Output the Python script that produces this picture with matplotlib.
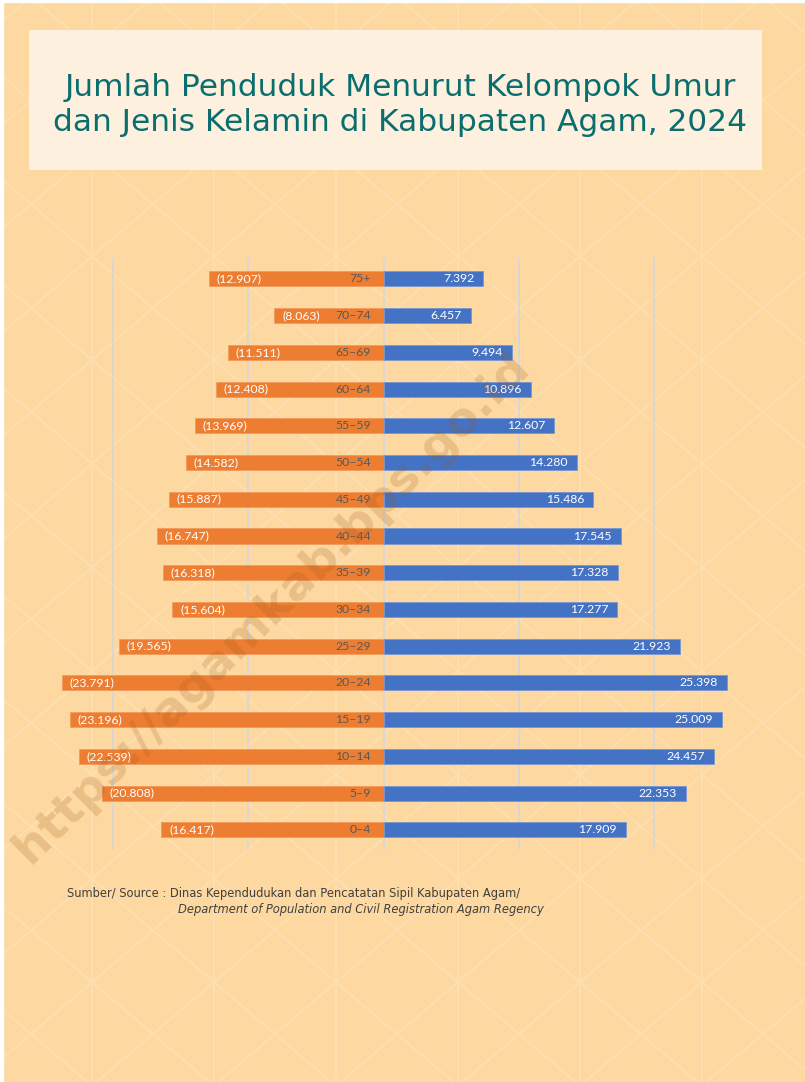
import numpy as np
import matplotlib
matplotlib.use("Agg")
import matplotlib.pyplot as plt
from matplotlib.patches import Rectangle

# ---------------- data ----------------
age_groups = ["0–4", "5–9", "10–14", "15–19", "20–24", "25–29", "30–34", "35–39",
              "40–44", "45–49", "50–54", "55–59", "60–64", "65–69", "70–74", "75+"]
female = [16417, 20808, 22539, 23196, 23791, 19565, 15604, 16318,
          16747, 15887, 14582, 13969, 12408, 11511, 8063, 12907]
male = [17909, 22353, 24457, 25009, 25398, 21923, 17277, 17328,
        17545, 15486, 14280, 12607, 10896, 9494, 6457, 7392]
grid_ticks = [-20000, -10000, 0, 10000, 20000]

title = "Jumlah Penduduk Menurut Kelompok Umur\ndan Jenis Kelamin di Kabupaten Agam, 2024"
source1 = "Sumber/ Source : Dinas Kependudukan dan Pencatatan Sipil Kabupaten Agam/"
source2 = "Department of Population and Civil Registration Agam Regency"
watermark = "https://agamkab.bps.go.id"

def fmt(v):
    return f"{v:,}".replace(",", ".")

# ---------------- figure ----------------
W, H = 805, 1082
BG = "#FDD8A0"
fig = plt.figure(figsize=(W / 100, H / 100), dpi=100, facecolor=BG)

# background pattern axes in pixel coordinates
bg = fig.add_axes([0, 0, 1, 1], zorder=0)
bg.axis("off")
bg.set_facecolor(BG)
pcol = "#FDDFB1"
period = 122
m = 0.85
xs0 = 31
for k in range(-2, 8):
    x = 92 + k * period
    bg.plot([x, x], [0, H], color=pcol, lw=1.3, zorder=0)
for k in range(-20, 30):
    x0 = xs0 + k * period
    yy = np.array([-200, H + 200])
    bg.plot(x0 + (yy - 1034) / m, yy, color=pcol, lw=1.3, zorder=0)
    bg.plot(x0 - (yy - 1034) / m, yy, color=pcol, lw=1.3, zorder=0)
bg.set_xlim(0, W)
bg.set_ylim(H, 0)

# white edges
bg.add_patch(Rectangle((0, 0), 3, H, color="white", zorder=1))
bg.add_patch(Rectangle((0, 0), W, 2, color="white", zorder=1))

# title box
bg.add_patch(Rectangle((29, 30), 733, 140, facecolor="#FEF0DE", edgecolor="none", zorder=2))
bg.text(400, 105, title, ha="center", va="center", fontsize=22.5, color="#0B6E6E",
        family="DejaVu Sans", linespacing=1.3, zorder=3)

# source text
bg.text(67, 893, source1, ha="left", va="center", fontsize=8.3, color="#404040",
        family="DejaVu Sans", zorder=3)
bg.text(178, 909, source2, ha="left", va="center", fontsize=8.3, color="#404040",
        family="DejaVu Sans", style="italic", zorder=3)

# ---------------- chart axes ----------------
px_per_unit = 13.525 / 1000.0
x_left_px, x_right_px, zero_px = 40, 760, 383.5
top_px, bot_px = 258, 850
ax = fig.add_axes([x_left_px / W, 1 - bot_px / H, (x_right_px - x_left_px) / W,
                   (bot_px - top_px) / H], zorder=3)
ax.set_facecolor("none")
ax.set_xlim(-(zero_px - x_left_px) / px_per_unit, (x_right_px - zero_px) / px_per_unit)
ax.set_ylim(-0.55, 15.57)
for s in ax.spines.values():
    s.set_visible(False)
ax.set_xticks([])
ax.set_yticks([])
for g in grid_ticks:
    ax.axvline(g, color="#D3D6DC", lw=1.2, zorder=1)

y = np.arange(len(age_groups))
neg_f = [-v for v in female]
ax.barh(y, neg_f, height=0.41, color="#ED7D31", edgecolor="#F29A5C", linewidth=0.6, zorder=2)
ax.barh(y, male, height=0.41, color="#4472C4", edgecolor="#7B97CF", linewidth=0.6, zorder=2)

lab_font = dict(family=["Lato", "DejaVu Sans"], fontsize=8.8)
for yi, f, mv, a in zip(y, female, male, age_groups):
    ax.annotate(f"({fmt(f)})", (-f, yi), xytext=(5.5, 0), textcoords="offset points",
                ha="left", va="center", color="white", zorder=4, **lab_font)
    ax.annotate(a, (0, yi), xytext=(-9, 0), textcoords="offset points",
                ha="right", va="center", color="#595959", zorder=4, **lab_font)
    ax.annotate(fmt(mv), (mv, yi), xytext=(-6.5, 0), textcoords="offset points",
                ha="right", va="center", color="white", zorder=4, **lab_font)

# watermark
wm = fig.add_axes([0, 0, 1, 1], zorder=5)
wm.set_xlim(0, W)
wm.set_ylim(H, 0)
wm.axis("off")
wm.patch.set_alpha(0)
wm.text(272, 608, watermark, ha="center", va="center", rotation=44.7,
        rotation_mode="anchor", fontsize=34, fontweight="bold", color="#9A5A20",
        alpha=0.2, family="DejaVu Sans")

fig.savefig("out.png", dpi=100, facecolor=BG)
